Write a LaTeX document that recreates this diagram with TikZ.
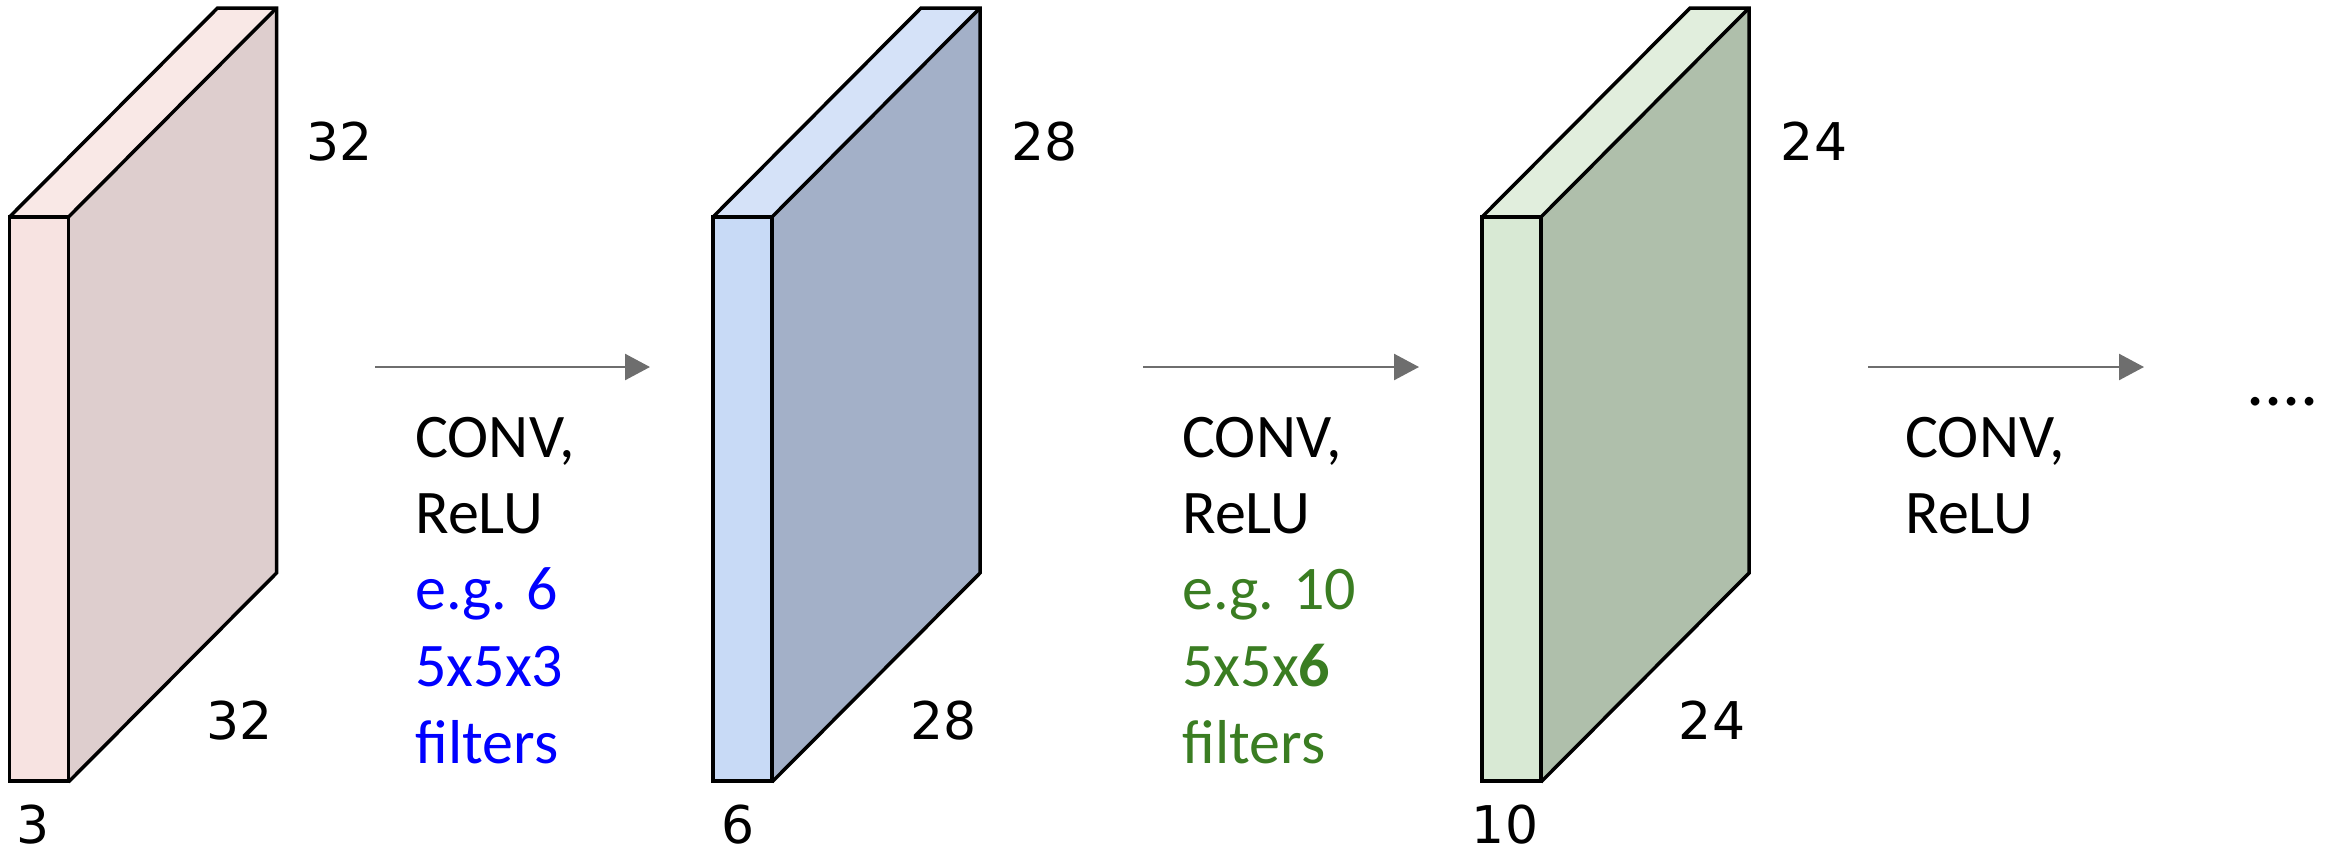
\documentclass[tikz,border=0pt]{standalone}
\usepackage{fontspec}
\setmainfont{Carlito}
\newfontfamily\numfont{DejaVu Sans}
\usetikzlibrary{arrows.meta}
\definecolor{pinkfront}{HTML}{F7E3E1}
\definecolor{pinktop}{HTML}{F9E8E6}
\definecolor{pinkside}{HTML}{DECECE}
\definecolor{bluefront}{HTML}{C8DAF6}
\definecolor{bluetop}{HTML}{D5E2F8}
\definecolor{blueside}{HTML}{A3B0C8}
\definecolor{greenfront}{HTML}{D8E9D4}
\definecolor{greentop}{HTML}{E1EEDD}
\definecolor{greenside}{HTML}{AFBFAB}
\definecolor{txtgreen}{RGB}{58,125,34}
\definecolor{arrgray}{HTML}{6E6E6E}
\newcommand\slabbox[4]{%
  \fill[#2] (#1,217) rectangle ++(59,564);
  \fill[#3] (#1,217) -- ++(208,-209) -- ++(59,0) -- ++(-208,209) -- cycle;
  \fill[#4] (#1+59,217) -- ++(208,-209) -- ++(0,565) -- ++(-208,209) -- cycle;
  \draw[edge] (#1,217) rectangle ++(59,564);
  \draw[edge] (#1,217) -- ++(208,-209) -- ++(59,0) -- ++(0,565) -- ++(-208,209);
  \draw[edge] (#1+59,217) -- ++(208,-209);
}
\begin{document}
\begin{tikzpicture}[x=0.5pt,y=-0.5pt,
  edge/.style={draw=black,line width=1.75pt},
  arr/.style={draw=arrgray,line width=1.25pt,-{Triangle[length=12.5pt,width=13pt]}},
  lbl/.style={anchor=base west,inner sep=0pt,font=\fontsize{31}{38}\selectfont},
  num/.style={anchor=base,inner sep=0pt,font=\numfont\fontsize{26}{30}\selectfont}]
\useasboundingbox (0,0) rectangle (2341,852);
\fill[white] (0,0) rectangle (2341,852);
% slabs
\slabbox{9.5}{pinkfront}{pinktop}{pinkside}
\slabbox{713}{bluefront}{bluetop}{blueside}
\slabbox{1482}{greenfront}{greentop}{greenside}
% dimension labels
\node[num] (n1a) at (340,160) {32};
\node[num] (n1b) at (240,739) {32};
\node[num] (n1c) at (33,843) {3};
\node[num] (n2a) at (1045,160) {28};
\node[num] (n2b) at (944,739) {28};
\node[num] (n2c) at (738,843) {6};
\node[num] (n3a) at (1814,160) {24};
\node[num] (n3b) at (1712,739) {24};
\node[num] (n3c) at (1505,843) {10};
% arrows
\coordinate (a1s) at (375,367); \coordinate (a1e) at (650,367);
\coordinate (a2s) at (1143,367); \coordinate (a2e) at (1419,367);
\coordinate (a3s) at (1868,367); \coordinate (a3e) at (2144,367);
\draw[arr] (a1s) -- (a1e);
\draw[arr] (a2s) -- (a2e);
\draw[arr] (a3s) -- (a3e);
% texts group 1
\node[lbl] (t1a) at (415,457) {CONV,};
\node[lbl] (t1b) at (415,533) {ReLU};
\node[lbl,text=blue] (t1c) at (415,609) {e.g. 6};
\node[lbl,text=blue] (t1d) at (415,686) {5x5x3};
\node[lbl,text=blue] (t1e) at (415,763) {filters};
% texts group 2
\node[lbl] (t2a) at (1182,457) {CONV,};
\node[lbl] (t2b) at (1182,533) {ReLU};
\node[lbl,text=txtgreen] (t2c) at (1182,609) {e.g. 10};
\node[lbl,text=txtgreen] (t2d) at (1182,686) {5x5x\textbf{6}};
\node[lbl,text=txtgreen] (t2e) at (1182,763) {filters};
% texts group 3
\node[lbl] (t3a) at (1905,457) {CONV,};
\node[lbl] (t3b) at (1905,533) {ReLU};
\node[lbl,font=\fontsize{36}{40}\selectfont] (dots) at (2246,405) {....};
\end{tikzpicture}
\end{document}
